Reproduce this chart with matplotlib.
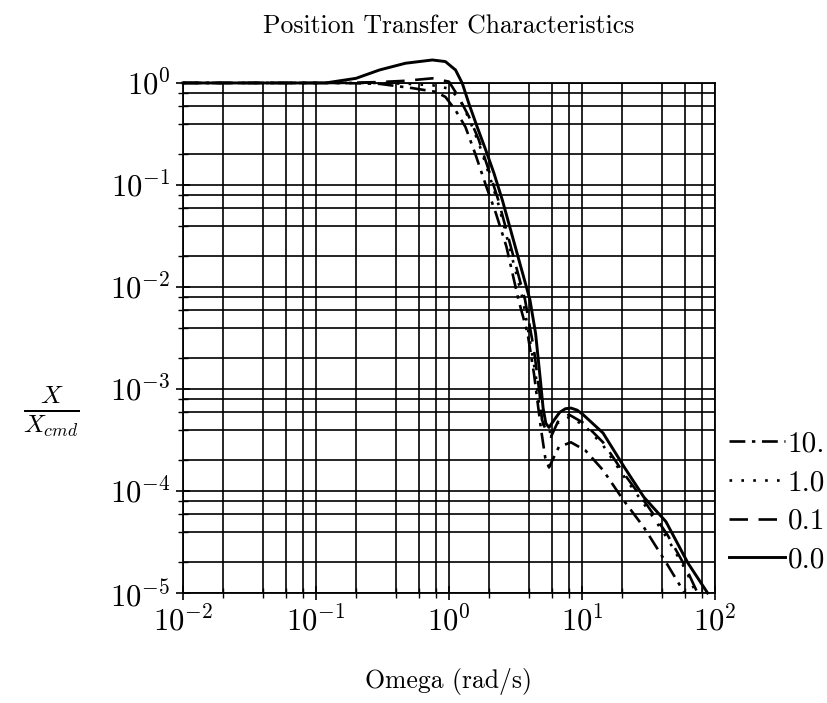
import matplotlib
matplotlib.use("Agg")
import matplotlib.pyplot as plt
from matplotlib.ticker import LogLocator, NullFormatter

plt.rcParams['font.family'] = 'cmr10'
plt.rcParams['mathtext.fontset'] = 'cm'
plt.rcParams['axes.formatter.use_mathtext'] = True

# damping values shown in the legend
labels = ["10.", "1.0", "0.1", "0.0"]

# 0.0 (solid)
w_00 = [0.01, 0.05, 0.118, 0.2, 0.3, 0.47, 0.75, 0.94, 1.12, 1.26, 1.41, 1.63,
        1.89, 2.18, 2.52, 4.06, 4.48, 4.89, 5.1, 5.35, 5.65, 6.2, 6.8, 7.5, 8.26,
        9.2, 10.2, 14.4, 21, 29.2, 42.8, 62.7, 88]
m_00 = [1.0, 1.0, 1.0, 1.11, 1.34, 1.56, 1.68, 1.62, 1.34, 0.99, 0.63, 0.37,
        0.22, 0.13, 0.071, 7.5e-3, 3.5e-3, 1.15e-3, 6.5e-4, 4.6e-4, 4.2e-4, 5.0e-4,
        5.9e-4, 6.4e-4, 6.5e-4, 6.2e-4, 5.6e-4, 3.7e-4, 1.68e-4, 8.7e-5, 5.0e-5,
        1.96e-5, 1e-5]

# 0.1 (dashed)
w_01 = [0.01, 0.05, 0.15, 0.3, 0.47, 0.75, 1.0, 1.18, 1.41, 1.67, 1.99, 2.35,
        3.73, 4.36, 4.8, 5.0, 5.4, 5.85, 6.7, 8.0, 10.4, 14.4, 21, 30.8, 44, 60, 74]
m_01 = [1.0, 1.0, 1.0, 1.02, 1.05, 1.11, 1.03, 0.73, 0.47, 0.28, 0.14, 0.071,
        7.5e-3, 2.4e-3, 9e-4, 5e-4, 3.8e-4, 3.4e-4, 5e-4, 5.6e-4, 4.6e-4, 3e-4,
        1.44e-4, 7.3e-5, 3.7e-5, 1.8e-5, 1e-5]

# 1.0 (dotted)
w_10 = [0.01, 0.05, 0.15, 0.3, 0.5, 0.75, 1.0, 1.2, 1.41, 1.67, 1.99, 2.35,
        3.6, 4.48, 4.8, 5.2, 5.65, 6.5, 8.0, 10.4, 14.4, 21, 30.8, 44, 60, 72]
m_10 = [1.0, 1.0, 1.0, 1.0, 0.98, 0.95, 0.88, 0.7, 0.45, 0.26, 0.13, 0.065,
        7.5e-3, 1.4e-3, 6.3e-4, 4.2e-4, 3.7e-4, 4.6e-4, 5.3e-4, 4.4e-4, 2.8e-4,
        1.35e-4, 6.8e-5, 3.4e-5, 1.7e-5, 1e-5]

# 10. (dash-dot)
w_100 = [0.01, 0.05, 0.15, 0.3, 0.53, 0.79, 0.94, 1.12, 1.33, 1.58, 1.89, 2.25,
         2.7, 3.33, 3.9, 4.36, 4.9, 5.3, 5.65, 6.1, 6.7, 8.26, 10.6, 14.4, 20.4,
         29.2, 42.8, 59]
m_100 = [1.0, 1.0, 1.0, 0.98, 0.89, 0.82, 0.73, 0.54, 0.37, 0.20, 0.10, 0.053,
         0.025, 7.5e-3, 3.5e-3, 1.4e-3, 4.2e-4, 2.1e-4, 1.7e-4, 2.1e-4, 2.7e-4,
         3.0e-4, 2.5e-4, 1.6e-4, 8.2e-5, 4.4e-5, 2e-5, 1e-5]

fig = plt.figure(figsize=(8.28, 7.03), dpi=100)
ax = fig.add_axes([0.221, 0.1565, 0.6425, 0.7255])

ax.plot(w_100, m_100, color='black', lw=1.9, ls=(0, (6, 2.5, 1.3, 2.5)), label=labels[0], clip_on=False)
ax.plot(w_10, m_10, color='black', lw=1.9, ls=(0, (1, 3.5)), label=labels[1], clip_on=False)
ax.plot(w_01, m_01, color='black', lw=1.9, ls=(0, (7, 4)), label=labels[2], clip_on=False)
ax.plot(w_00, m_00, color='black', lw=2.1, ls='-', label=labels[3], clip_on=False)

ax.set_xscale('log')
ax.set_yscale('log')
ax.set_xlim(1e-2, 1e2)
ax.set_ylim(1e-5, 1e0)

for axis in (ax.xaxis, ax.yaxis):
    axis.set_major_locator(LogLocator(base=10, numticks=10))
    axis.set_minor_locator(LogLocator(base=10, subs=(2, 4, 6, 8), numticks=20))
    axis.set_minor_formatter(NullFormatter())

ax.grid(True, which='both', color='black', lw=1.2)
ax.tick_params(which='major', direction='inout', length=10, width=1.2, labelsize=22, pad=4)
ax.tick_params(which='minor', direction='inout', length=7, width=1.0)
for s in ax.spines.values():
    s.set_linewidth(1.3)

fig.text(0.542, 0.962, "Position Transfer Characteristics", ha='center', va='center', fontsize=18.5)
fig.text(0.542, 0.030, "Omega (rad/s)", ha='center', va='center', fontsize=18.5)
fig.text(0.062, 0.414, r'$\frac{X}{X_{cmd}}$', ha='center', va='center', fontsize=26)

ax.legend(loc='lower left', bbox_to_anchor=(1.005, 0.015), frameon=False, fontsize=21,
          handlelength=1.9, handletextpad=0.1, labelspacing=0.42, borderaxespad=0)

fig.savefig("out.png", dpi=100)
